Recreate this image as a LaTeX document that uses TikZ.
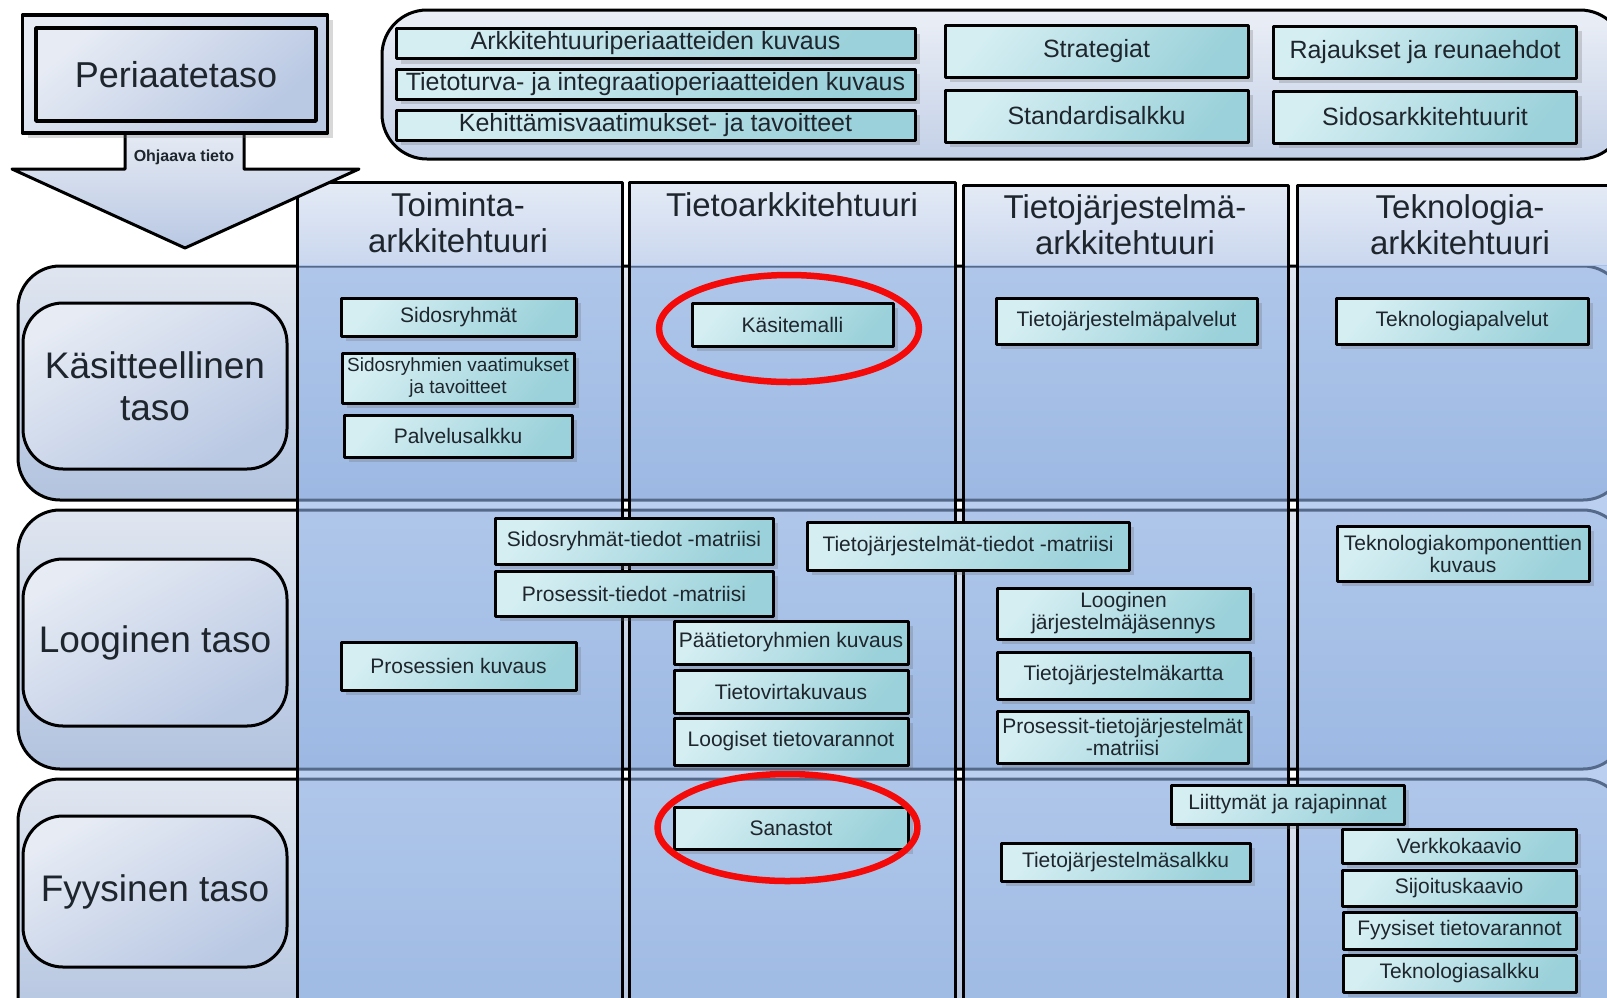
\documentclass[tikz,border=0pt]{standalone}
\usepackage{fontspec}
\setmainfont{Liberation Sans}
\usetikzlibrary{shadows,shapes.geometric}
\definecolor{boxA}{HTML}{D4EEF2}
\definecolor{boxB}{HTML}{9BD1DA}
\definecolor{periA}{HTML}{E6EBF4}
\definecolor{periB}{HTML}{B9C8E3}
\definecolor{bandA}{HTML}{E0E6F0}
\definecolor{bandB}{HTML}{B2C3DF}
\definecolor{headA}{HTML}{E4EBF6}
\definecolor{headB}{HTML}{CAD7EE}
\definecolor{colA}{HTML}{8FB2E6}
\definecolor{ringred}{HTML}{F50A0A}
\definecolor{ink}{HTML}{1E252C}
\begin{document}
\begin{tikzpicture}[x=1pt,y=-1pt, line join=round,
 shadowed/.style={drop shadow={shadow xshift=5pt, shadow yshift=-5pt, opacity=0.25, fill=black!60}},
 ibox/.style={draw=black, line width=3pt, top color=boxA, bottom color=boxB, shading angle=50, text=ink, align=center, inner sep=1pt, font=\fontsize{21}{22}\selectfont, shadowed},
 tbox/.style={ibox, font=\fontsize{25}{27}\selectfont},
 lvl/.style={draw=black, line width=3pt, rounded corners=40pt, top color=periA, bottom color=periB, shading angle=30, text=ink, align=center, font=\fontsize{37}{42}\selectfont, minimum width=264pt},
 band/.style={draw=black, line width=3pt, rounded corners=42pt, top color=bandA, bottom color=bandB},
 colhead/.style={top color=headA, bottom color=headB},
 colbody/.style={fill=colA, fill opacity=0.6},
 coledge/.style={draw=black, line width=3pt},
 htext/.style={align=center, text=ink, font=\fontsize{33}{36}\selectfont},
 ring/.style={draw=ringred, line width=6.5pt, ellipse, inner sep=0pt}
]
\useasboundingbox (0,0) rectangle (1607,997);
\clip (0,0) rectangle (1607,997);
\fill[white] (0,0) rectangle (1607,997);

% row bands
\path[band] (18,266) rectangle (1625,500);
\path[band] (18,510) rectangle (1625,769);
\path[band] (18,779) rectangle (1625,1040);

% columns
\path[colhead] (297,182) rectangle (622,265);
\path[colbody] (297,265) rectangle (622,1010);
\path[colhead] (629,182) rectangle (955,265);
\path[colbody] (629,265) rectangle (955,1010);
\path[colhead] (963,185) rectangle (1288,265);
\path[colbody] (963,265) rectangle (1288,1010);
\path[colhead] (1297,185) rectangle (1640,265);
\path[colbody] (1297,265) rectangle (1640,1010);
\draw[coledge] (297,182) rectangle (622,1010);
\draw[coledge] (629,182) rectangle (955,1010);
\draw[coledge] (963,185) rectangle (1288,1010);
\draw[coledge] (1297,185) rectangle (1640,1010);

% column headers
\node[htext] (h1) at (458,223) {Toiminta-\\arkkitehtuuri};
\node[htext] (h2) at (792,205) {Tietoarkkitehtuuri};
\node[htext] (h3) at (1125,225) {Tietojärjestelmä-\\arkkitehtuuri};
\node[htext] (h4) at (1460,225) {Teknologia-\\arkkitehtuuri};

% row labels
\node[lvl, minimum height=166pt] (lk) at (155,386) {Käsitteellinen\\taso};
\node[lvl, minimum height=167pt] (ll) at (155,642.5) {Looginen taso};
\node[lvl, minimum height=151pt] (lf) at (155,891.5) {Fyysinen taso};

% Toiminta-arkkitehtuuri
\node[ibox, minimum width=235pt, minimum height=38pt] (sr) at (458.5,317) {Sidosryhmät};
\node[ibox, minimum width=232pt, minimum height=50pt, font=\fontsize{19}{22}\selectfont] (srv) at (458,378) {Sidosryhmien vaatimukset\\ja tavoitteet};
\node[ibox, minimum width=228pt, minimum height=42pt] (pa) at (458,436) {Palvelusalkku};
\node[ibox, minimum width=235pt, minimum height=48pt] (pk) at (458.5,666) {Prosessien kuvaus};

% Tietoarkkitehtuuri
\node[ibox, minimum width=201pt, minimum height=43pt] (km) at (792.5,324.5) {Käsitemalli};
\node[ibox, minimum width=278pt, minimum height=46pt] (srt) at (634,541) {Sidosryhmät-tiedot -matriisi};
\node[ibox, minimum width=278pt, minimum height=45pt] (prt) at (634,593.5) {Prosessit-tiedot -matriisi};
\node[ibox, minimum width=234pt, minimum height=43pt] (ptr) at (791,642.5) {Päätietoryhmien kuvaus};
\node[ibox, minimum width=234pt, minimum height=43pt] (tvk) at (791,691.5) {Tietovirtakuvaus};
\node[ibox, minimum width=234pt, minimum height=47pt] (ltv) at (791,741.5) {Loogiset tietovarannot};
\node[ibox, minimum width=234pt, minimum height=42pt] (san) at (791,828) {Sanastot};
\node[ibox, minimum width=322pt, minimum height=48pt] (tjt) at (968,546) {Tietojärjestelmät-tiedot -matriisi};

% Tietojärjestelmäarkkitehtuuri
\node[ibox, minimum width=261pt, minimum height=46pt] (tjp) at (1126.5,321) {Tietojärjestelmäpalvelut};
\node[ibox, minimum width=253pt, minimum height=51pt] (ljj) at (1123.5,613.5) {Looginen\\järjestelmäjäsennys};
\node[ibox, minimum width=253pt, minimum height=47pt] (tjk) at (1123.5,675.5) {Tietojärjestelmäkartta};
\node[ibox, minimum width=251pt, minimum height=52pt] (ptj) at (1122.5,737) {Prosessit-tietojärjestelmät\\-matriisi};
\node[ibox, minimum width=249pt, minimum height=38pt] (tjs) at (1125.5,862) {Tietojärjestelmäsalkku};
\node[ibox, minimum width=233pt, minimum height=39pt] (lr) at (1287.5,804.5) {Liittymät ja rajapinnat};

% Teknologia-arkkitehtuuri
\node[ibox, minimum width=252pt, minimum height=46pt] (tp) at (1462,321) {Teknologiapalvelut};
\node[ibox, minimum width=252pt, minimum height=55pt] (tkk) at (1463,553.5) {Teknologiakomponenttien\\kuvaus};
\node[ibox, minimum width=234pt, minimum height=34pt] (vk) at (1459,846) {Verkkokaavio};
\node[ibox, minimum width=234pt, minimum height=36pt] (sk) at (1459,888) {Sijoituskaavio};
\node[ibox, minimum width=233pt, minimum height=37pt] (ftv) at (1459.5,930.5) {Fyysiset tietovarannot};
\node[ibox, minimum width=233pt, minimum height=37pt] (ts) at (1459.5,973.5) {Teknologiasalkku};

% red rings
\node[ring, minimum width=260pt, minimum height=107pt] (e1) at (789,328.5) {};
\node[ring, minimum width=260pt, minimum height=107pt] (e2) at (787.5,827.5) {};

% top container
\path[draw=black, line width=3pt, rounded corners=45pt, top color=periA!80!white, bottom color=periB!85!white] (382,10) rectangle (1625,159);
\node[tbox, minimum width=519pt, minimum height=30pt] (t1) at (655.5,43.5) {Arkkitehtuuriperiaatteiden kuvaus};
\node[tbox, minimum width=519pt, minimum height=30pt] (t2) at (655.5,84) {Tietoturva- ja integraatioperiaatteiden kuvaus};
\node[tbox, minimum width=519pt, minimum height=30pt] (t3) at (655.5,125) {Kehittämisvaatimukset- ja tavoitteet};
\node[tbox, minimum width=303pt, minimum height=52pt] (st) at (1096.5,51) {Strategiat};
\node[tbox, minimum width=303pt, minimum height=52pt] (sa) at (1096.5,116) {Standardisalkku};
\node[tbox, minimum width=303pt, minimum height=52pt] (rr) at (1425,52) {Rajaukset ja reunaehdot};
\node[tbox, minimum width=303pt, minimum height=52pt] (sar) at (1425,117) {Sidosarkkitehtuurit};

% guiding arrow
\path[draw=black, line width=3pt, top color=periA, bottom color=periB] (125,131) -- (125,169) -- (12,169) -- (185,248) -- (359,169) -- (244,169) -- (244,131);
\node[text=ink, font=\bfseries\fontsize{16}{18}\selectfont] (ohj) at (184,157) {Ohjaava tieto};

% Periaatetaso
\node[draw=black, line width=3.5pt, minimum width=305pt, minimum height=118pt, top color=periA, bottom color=periB, shading angle=40, shadowed] (po) at (175,74) {};
\node[draw=black, line width=3.5pt, minimum width=280pt, minimum height=93pt, top color=periA, bottom color=periB, shading angle=40, text=ink, font=\fontsize{36}{40}\selectfont] (pi) at (176,74.5) {Periaatetaso};
\end{tikzpicture}
\end{document}
